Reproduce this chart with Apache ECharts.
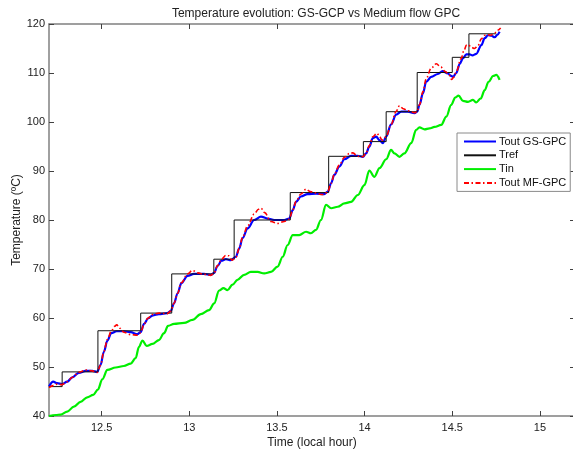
<!DOCTYPE html>
<html>
<head>
<meta charset="utf-8">
<script src="https://cdn.jsdelivr.net/npm/echarts@6/dist/echarts.min.js"></script>
<style>
  html, body { margin: 0; padding: 0; background: #fff; }
  #chart { width: 573px; height: 452px; }
</style>
</head>
<body>
<div id="chart"></div>
<script>
// Axis ticks
const xTicks = [12.5, 13, 13.5, 14, 14.5, 15];
const yTicks = [40, 50, 60, 70, 80, 90, 100, 110, 120];

// Series names
const seriesNames = ['Tout GS-GPC', 'Tref', 'Tin', 'Tout MF-GPC'];

// Reference temperature: [hour at which the level starts, level in ºC]
const tref = [
  [12.2, 46.0], [12.275, 49.0], [12.479, 57.4], [12.723, 61.0], [12.9, 69.0],
  [13.14, 72.0], [13.256, 80.0], [13.576, 85.6], [13.795, 93.0], [13.993, 96.0],
  [14.123, 102.1], [14.3, 110.1], [14.5, 113.2], [14.595, 118.0], [14.751, 118.0]
];

// Outlet temperature, GS-GPC controller [hour, ºC]
const toutGS = [
  [12.2, 46.0], [12.224, 47.0], [12.247, 46.7], [12.275, 46.5], [12.304, 47.0],
  [12.333, 47.9], [12.37, 48.8], [12.409, 49.2], [12.447, 49.2], [12.475, 49.0],
  [12.494, 50.4], [12.513, 53.1], [12.533, 55.4], [12.555, 56.9], [12.586, 57.3],
  [12.627, 57.3], [12.666, 57.1], [12.704, 56.7], [12.723, 57.1], [12.742, 58.8],
  [12.765, 59.9], [12.79, 60.5], [12.827, 60.8], [12.875, 61.0], [12.894, 61.4],
  [12.913, 63.0], [12.933, 65.0], [12.955, 67.1], [12.99, 68.6], [13.027, 69.0],
  [13.085, 69.0], [13.123, 68.8], [13.142, 69.2], [13.161, 70.6], [13.184, 71.7],
  [13.209, 72.0], [13.237, 71.8], [13.266, 72.5], [13.285, 74.2], [13.304, 76.3],
  [13.333, 78.3], [13.37, 80.0], [13.409, 80.7], [13.447, 80.3], [13.485, 80.0],
  [13.542, 80.0], [13.57, 80.3], [13.59, 82.0], [13.609, 83.7], [13.637, 84.8],
  [13.675, 85.3], [13.723, 85.4], [13.77, 85.3], [13.79, 85.8], [13.809, 87.5],
  [13.827, 89.2], [13.856, 90.9], [13.885, 92.4], [13.923, 93.1], [13.961, 93.1],
  [13.99, 92.9], [14.009, 93.6], [14.027, 95.0], [14.047, 96.7], [14.066, 97.0],
  [14.085, 96.3], [14.104, 95.7], [14.123, 97.0], [14.151, 99.5], [14.18, 101.5],
  [14.209, 102.1], [14.247, 102.1], [14.285, 101.8], [14.3, 102.1], [14.313, 103.5],
  [14.333, 105.9], [14.351, 108.2], [14.38, 109.2], [14.418, 109.8], [14.445, 110.4],
  [14.475, 109.9], [14.494, 109.4], [14.504, 109.2], [14.523, 110.0], [14.542, 111.8],
  [14.561, 113.0], [14.58, 113.8], [14.599, 113.8], [14.615, 113.6], [14.637, 113.9],
  [14.666, 115.7], [14.685, 117.1], [14.704, 117.7], [14.723, 117.6], [14.742, 117.3],
  [14.757, 117.8], [14.77, 118.4]
];

// Inlet temperature [hour, ºC]
const tin = [
  [12.2, 40.0], [12.24, 40.2], [12.266, 40.3], [12.304, 40.9], [12.342, 41.9],
  [12.38, 42.9], [12.418, 43.8], [12.452, 44.3], [12.479, 45.4], [12.504, 47.5],
  [12.533, 49.4], [12.58, 49.9], [12.627, 50.2], [12.666, 50.7], [12.694, 51.8],
  [12.713, 54.1], [12.733, 55.4], [12.757, 54.3], [12.79, 54.7], [12.827, 55.5],
  [12.856, 56.9], [12.879, 58.4], [12.913, 58.8], [12.97, 59.0], [13.018, 59.6],
  [13.066, 60.8], [13.113, 61.6], [13.142, 63.0], [13.17, 65.6], [13.195, 66.1],
  [13.218, 65.7], [13.247, 66.8], [13.275, 67.8], [13.313, 68.8], [13.351, 69.4],
  [13.39, 69.4], [13.427, 69.1], [13.466, 69.4], [13.504, 70.5], [13.533, 72.5],
  [13.561, 74.9], [13.59, 76.9], [13.627, 76.9], [13.666, 77.6], [13.694, 77.3],
  [13.723, 78.0], [13.751, 80.0], [13.78, 83.1], [13.809, 82.4], [13.847, 82.7],
  [13.885, 83.4], [13.923, 83.7], [13.961, 85.1], [13.999, 87.1], [14.027, 90.1],
  [14.056, 88.8], [14.085, 90.6], [14.123, 92.4], [14.151, 94.3], [14.17, 93.6],
  [14.199, 92.9], [14.227, 93.6], [14.266, 95.7], [14.294, 98.4], [14.313, 98.9],
  [14.342, 98.5], [14.37, 98.7], [14.399, 99.0], [14.437, 99.4], [14.466, 101.1],
  [14.494, 103.5], [14.517, 105.0], [14.536, 105.4], [14.561, 104.3], [14.59, 104.1],
  [14.618, 104.5], [14.637, 104.0], [14.662, 104.8], [14.685, 106.5], [14.707, 108.2],
  [14.733, 109.4], [14.751, 109.6], [14.77, 108.6]
];

// Outlet temperature, medium flow GPC controller [hour, ºC]
const toutMF = [
  [12.2, 45.8], [12.224, 46.2], [12.247, 46.5], [12.275, 46.4], [12.304, 47.0],
  [12.333, 47.9], [12.37, 48.9], [12.409, 49.4], [12.447, 49.2], [12.475, 48.9],
  [12.494, 50.4], [12.513, 53.2], [12.533, 55.6], [12.555, 57.3], [12.574, 58.3],
  [12.586, 58.6], [12.605, 57.9], [12.627, 57.1], [12.666, 56.6], [12.704, 56.5],
  [12.723, 57.0], [12.742, 58.8], [12.765, 60.0], [12.79, 60.7], [12.827, 61.0],
  [12.875, 60.9], [12.894, 61.4], [12.913, 63.0], [12.933, 65.0], [12.955, 67.2],
  [12.99, 69.0], [13.018, 69.7], [13.05, 69.2], [13.085, 68.9], [13.123, 68.7],
  [13.142, 69.2], [13.161, 70.7], [13.184, 72.0], [13.209, 72.8], [13.225, 72.7],
  [13.245, 71.8], [13.266, 72.4], [13.285, 74.2], [13.304, 76.5], [13.333, 78.8],
  [13.37, 81.2], [13.395, 82.2], [13.409, 82.4], [13.43, 81.5], [13.466, 79.7],
  [13.504, 79.3], [13.542, 79.7], [13.57, 80.2], [13.59, 82.0], [13.609, 83.8],
  [13.637, 85.3], [13.666, 86.3], [13.69, 85.8], [13.723, 85.5], [13.751, 85.2],
  [13.77, 85.2], [13.79, 85.8], [13.809, 87.5], [13.827, 89.3], [13.856, 91.2],
  [13.885, 92.8], [13.915, 93.6], [13.933, 93.7], [13.961, 93.0], [13.99, 92.9],
  [14.009, 93.7], [14.027, 95.2], [14.047, 97.0], [14.071, 97.7], [14.085, 97.0],
  [14.1, 96.3], [14.123, 97.0], [14.151, 99.5], [14.18, 102.2], [14.199, 103.3],
  [14.22, 102.7], [14.247, 102.3], [14.285, 101.9], [14.3, 102.1], [14.313, 103.5],
  [14.333, 106.2], [14.351, 108.8], [14.38, 111.0], [14.409, 111.9], [14.435, 111.2],
  [14.46, 110.3], [14.481, 109.6], [14.497, 108.7], [14.51, 109.2], [14.523, 110.3],
  [14.55, 112.9], [14.567, 114.6], [14.581, 115.7], [14.59, 115.8], [14.61, 115.2],
  [14.627, 115.0], [14.647, 115.6], [14.666, 117.0], [14.685, 117.7], [14.704, 117.8],
  [14.72, 117.7], [14.742, 118.2], [14.757, 118.7], [14.776, 119.2]
];

const FONT = 'Liberation Sans, Arial, sans-serif';
const AXIS_GRAY = '#808080';
const TICK_DARK = '#404040';

const chart = echarts.init(document.getElementById('chart'), null, { renderer: 'canvas' });

chart.setOption({
  animation: false,
  backgroundColor: '#ffffff',
  title: [
    {
      text: 'Temperature evolution: GS-GCP vs Medium flow GPC',
      left: 311, top: 3, textAlign: 'center',
      textStyle: { fontFamily: FONT, fontSize: 12, fontWeight: 'normal', color: '#222' }
    }
  ],
  grid: { left: 49, top: 24, right: -2, bottom: 36, containLabel: false, outerBoundsMode: 'none' },
  legend: {
    data: seriesNames,
    orient: 'vertical',
    left: 457, top: 133,
    itemWidth: 32, itemHeight: 12, itemGap: 2.8,
    padding: [3, 4, 3, 6],
    backgroundColor: '#ffffff',
    borderColor: '#8a8a8a', borderWidth: 1, borderRadius: 0,
    itemStyle: { opacity: 0 },
    textStyle: { fontFamily: FONT, fontSize: 11, color: '#111', padding: [0, 0, 0, -2] }
  },
  xAxis: [
    {
      type: 'value', min: 12.2, max: 15.2, position: 'bottom',
      name: 'Time (local hour)', nameLocation: 'middle', nameGap: 21, nameMoveOverlap: false,
      nameTextStyle: { fontFamily: FONT, fontSize: 12, color: '#222' },
      axisLine: { show: true, onZero: false, lineStyle: { color: AXIS_GRAY, width: 1.5 } },
      axisTick: { show: true, inside: true, length: 5, customValues: xTicks,
                  lineStyle: { color: TICK_DARK, width: 1 } },
      axisLabel: { customValues: xTicks, margin: 6, fontFamily: FONT, fontSize: 11, color: '#222',
                   formatter: v => String(v) },
      splitLine: { show: false }
    },
    {
      type: 'value', min: 12.2, max: 15.2, position: 'top',
      axisLine: { show: true, onZero: false, lineStyle: { color: AXIS_GRAY, width: 1.5 } },
      axisTick: { show: true, inside: true, length: 5, customValues: xTicks,
                  lineStyle: { color: TICK_DARK, width: 1 } },
      axisLabel: { show: false },
      splitLine: { show: false }
    }
  ],
  yAxis: [
    {
      type: 'value', min: 40, max: 120, interval: 10, position: 'left',
      name: 'Temperature (ºC)', nameLocation: 'middle', nameGap: 26, nameRotate: 90,
      nameMoveOverlap: false,
      nameTextStyle: { fontFamily: FONT, fontSize: 12, color: '#222' },
      axisLine: { show: true, onZero: false, lineStyle: { color: AXIS_GRAY, width: 1.5 } },
      axisTick: { show: true, inside: true, length: 5, lineStyle: { color: TICK_DARK, width: 1 } },
      axisLabel: { margin: 4, fontFamily: FONT, fontSize: 11, color: '#222' },
      splitLine: { show: false }
    },
    {
      type: 'value', min: 40, max: 120, interval: 10, position: 'right',
      axisLine: { show: false, onZero: false },
      axisTick: { show: true, inside: true, length: 5, lineStyle: { color: TICK_DARK, width: 1 } },
      axisLabel: { show: false },
      splitLine: { show: false }
    }
  ],
  series: [
    {
      name: seriesNames[0], type: 'line', data: toutGS,
      symbol: 'none', smooth: 0.35, smoothMonotone: 'x',
      lineStyle: { color: '#0000ff', width: 2.2 }, itemStyle: { color: '#0000ff' }, z: 3
    },
    {
      name: seriesNames[1], type: 'line', data: tref, step: 'end',
      symbol: 'none',
      lineStyle: { color: '#111111', width: 1 }, itemStyle: { color: '#111111' }, z: 4
    },
    {
      name: seriesNames[2], type: 'line', data: tin,
      symbol: 'none', smooth: 0.35, smoothMonotone: 'x',
      lineStyle: { color: '#00ee00', width: 2.2 }, itemStyle: { color: '#00ee00' }, z: 2
    },
    {
      name: seriesNames[3], type: 'line', data: toutMF,
      symbol: 'none', smooth: 0.35, smoothMonotone: 'x',
      lineStyle: { color: '#ff0000', width: 1.6, type: [5, 2.5, 1.5, 2.5] },
      itemStyle: { color: '#ff0000' }, z: 5
    }
  ]
});
</script>
</body>
</html>
